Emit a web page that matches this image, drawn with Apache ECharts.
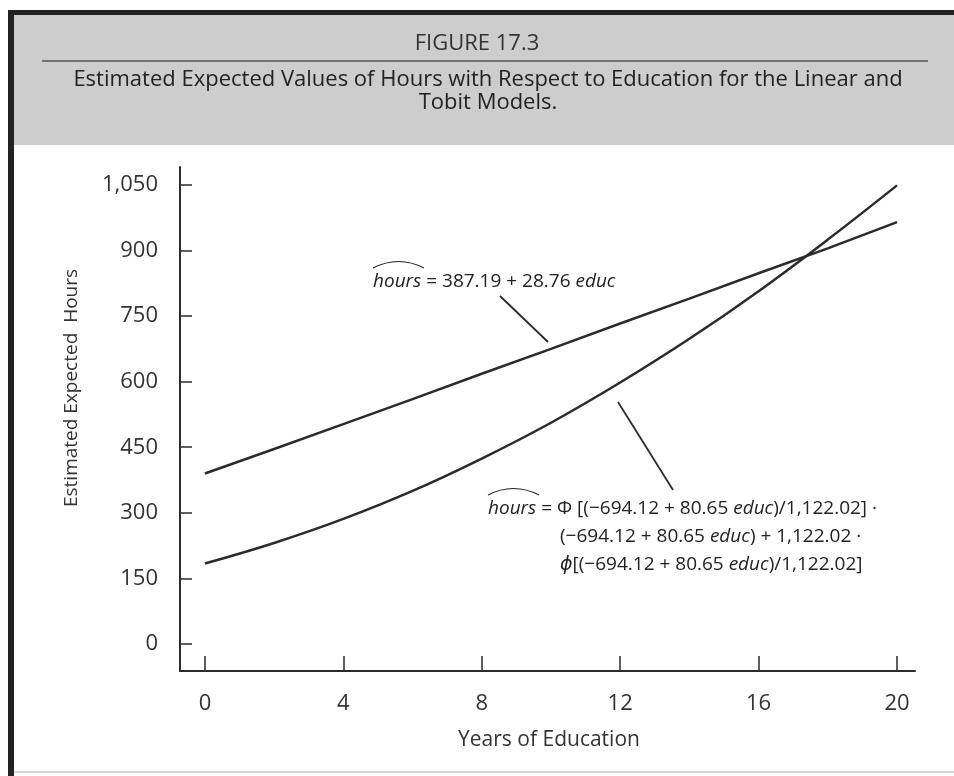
<!DOCTYPE html>
<html>
<head>
<meta charset="utf-8">
<script src="https://cdn.jsdelivr.net/npm/echarts@6/dist/echarts.min.js"></script>
<style>
html,body{margin:0;padding:0;background:#fff;}
#chart{width:954px;height:776px;}
</style>
</head>
<body>
<div id="chart"></div>
<script>
// ---- data ----
const educYears   = [0, 2, 4, 6, 8, 10, 12, 14, 16, 18, 20];
const linearHours = [390, 446, 503, 560, 618, 675, 733, 790, 848, 905, 965];
const tobitHours  = [184, 231, 286, 350, 424, 506, 598, 698, 807, 925, 1049];
const xTicks      = [0, 4, 8, 12, 16, 20];
const yTicks      = [0, 150, 300, 450, 600, 750, 900, 1050];
const yTickLabels = ['0', '150', '300', '450', '600', '750', '900', '1,050'];

const FONT = '"Open Sans", "DejaVu Sans", sans-serif';
const INK = '#2b2b2b';
const ANN = 19;

const chart = echarts.init(document.getElementById('chart'));

function pairs(xs, ys) { return xs.map((x, i) => [x, ys[i]]); }

const richItalic = { i: { fontStyle: 'italic', fontFamily: FONT, fontSize: ANN, fill: '#222' } };

const option = {
  backgroundColor: '#ffffff',
  animation: false,
  grid: { left: 180, right: 39, top: 167, bottom: 105, containLabel: false },
  xAxis: {
    type: 'value',
    min: -0.72, max: 20.52,
    splitLine: { show: false },
    axisLine: { show: true, onZero: false, lineStyle: { color: INK, width: 2 } },
    axisTick: { show: true, inside: true, length: 15, customValues: xTicks, lineStyle: { color: INK, width: 1.5 } },
    axisLabel: { customValues: xTicks, margin: 22, color: '#333', fontFamily: FONT, fontSize: 22 }
  },
  yAxis: {
    type: 'value',
    min: -61.8, max: 1091,
    splitLine: { show: false },
    axisLine: { show: true, onZero: false, lineStyle: { color: INK, width: 2 } },
    axisTick: { show: true, inside: true, length: 12, customValues: yTicks, lineStyle: { color: INK, width: 1.5 } },
    axisLabel: {
      customValues: yTicks, margin: 22, color: '#333', fontFamily: FONT, fontSize: 22,
      formatter: v => { const i = yTicks.indexOf(v); return i >= 0 ? yTickLabels[i] : ''; }
    }
  },
  series: [
    {
      name: 'Linear', type: 'line', data: pairs(educYears, linearHours),
      symbol: 'none', lineStyle: { color: INK, width: 2.5 }
    },
    {
      name: 'Tobit', type: 'line', data: pairs(educYears, tobitHours),
      smooth: 0.4, symbol: 'none', lineStyle: { color: INK, width: 2.5 }
    }
  ],
  graphic: [
    // header band
    { type: 'rect', z: 0, shape: { x: 14, y: 15, width: 940, height: 130 }, style: { fill: '#cdcdcd' } },
    { type: 'rect', z: 1, shape: { x: 8, y: 10, width: 946, height: 5 }, style: { fill: '#222' } },
    { type: 'rect', z: 1, shape: { x: 8, y: 10, width: 6, height: 766 }, style: { fill: '#222' } },
    { type: 'rect', z: 1, shape: { x: 14, y: 771, width: 940, height: 2 }, style: { fill: '#d5d5d5' } },
    { type: 'line', z: 2, shape: { x1: 42, y1: 61, x2: 928, y2: 61 }, style: { stroke: '#555', lineWidth: 1.5 } },
    { type: 'text', z: 3, x: 477, y: 44, style: { text: 'FIGURE 17.3', fontFamily: FONT, fontSize: 22, fill: '#333', align: 'center', verticalAlign: 'middle' } },
    { type: 'text', z: 3, x: 488, y: 91, style: {
        text: 'Estimated Expected Values of Hours with Respect to Education for the Linear and\nTobit Models.',
        fontFamily: FONT, fontSize: 22, lineHeight: 23, fill: '#222', align: 'center', verticalAlign: 'middle' } },
    // axis titles
    { type: 'text', z: 3, x: 72, y: 388, rotation: Math.PI / 2, style: { text: 'Estimated Expected  Hours', fontFamily: FONT, fontSize: 19, fill: '#333', align: 'center', verticalAlign: 'middle' } },
    { type: 'text', z: 3, x: 549, y: 740, style: { text: 'Years of Education', fontFamily: FONT, fontSize: 21, fill: '#333', align: 'center', verticalAlign: 'middle' } },
    // annotation 1 (linear)
    { type: 'text', z: 3, x: 373, y: 282, style: {
        text: '{i|hours} = 387.19 + 28.76 {i|educ}', fontFamily: FONT, fontSize: ANN, fill: '#222', align: 'left', verticalAlign: 'middle',
        rich: richItalic } },
    { type: 'bezierCurve', z: 3, shape: { x1: 373, y1: 268, x2: 424, y2: 268, cpx1: 398.5, cpy1: 255 }, style: { stroke: '#222', lineWidth: 1.2, fill: 'none' } },
    { type: 'line', z: 3, shape: { x1: 500, y1: 296, x2: 548, y2: 342 }, style: { stroke: INK, lineWidth: 1.8 } },
    // annotation 2 (tobit)
    { type: 'text', z: 3, x: 488, y: 509, style: {
        text: '{i|hours} = Φ [(−694.12 + 80.65 {i|educ})/1,122.02] ·', fontFamily: FONT, fontSize: ANN, fill: '#222', align: 'left', verticalAlign: 'middle',
        rich: richItalic } },
    { type: 'text', z: 3, x: 560, y: 537, style: {
        text: '(−694.12 + 80.65 {i|educ}) + 1,122.02 ·', fontFamily: FONT, fontSize: ANN, fill: '#222', align: 'left', verticalAlign: 'middle',
        rich: richItalic } },
    { type: 'text', z: 3, x: 560, y: 565, style: {
        text: '{i|ϕ}[(−694.12 + 80.65 {i|educ})/1,122.02]', fontFamily: FONT, fontSize: ANN, fill: '#222', align: 'left', verticalAlign: 'middle',
        rich: richItalic } },
    { type: 'bezierCurve', z: 3, shape: { x1: 488, y1: 495, x2: 539, y2: 495, cpx1: 513.5, cpy1: 482 }, style: { stroke: '#222', lineWidth: 1.2, fill: 'none' } },
    { type: 'line', z: 3, shape: { x1: 618, y1: 402, x2: 673, y2: 490 }, style: { stroke: INK, lineWidth: 1.8 } }
  ]
};

chart.setOption(option);
</script>
</body>
</html>
